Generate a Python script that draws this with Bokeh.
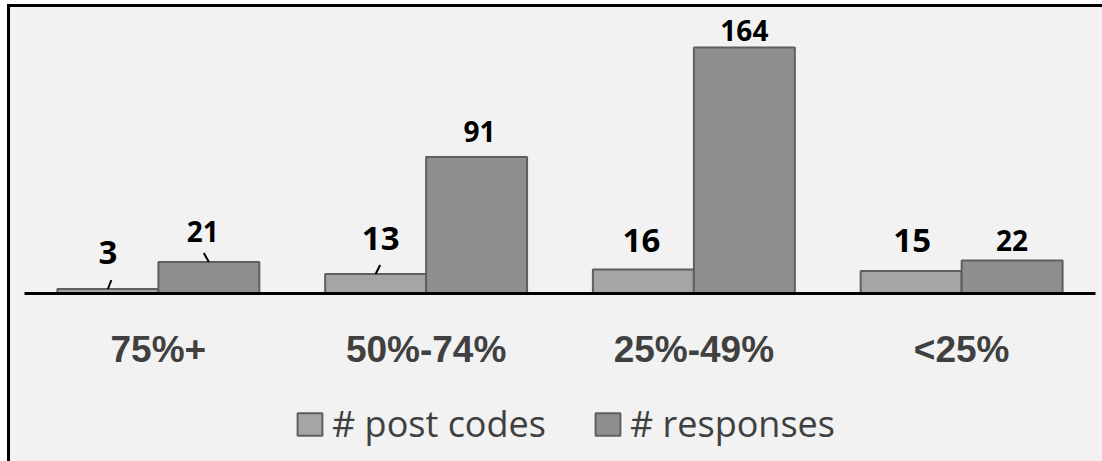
from bokeh.plotting import figure
from bokeh.models import ColumnDataSource, Range1d, FactorRange, Legend, LegendItem
from bokeh.layouts import column
from bokeh.transform import dodge
from bokeh.core.properties import value
from bokeh.embed import file_html
from bokeh.resources import INLINE

# ---- data ----
categories = ["75%+", "50%-74%", "25%-49%", "<25%"]
post_codes = [3, 13, 16, 15]
responses = [21, 91, 164, 22]
series_names = ["# post codes", "# responses"]

# ---- label placement tweaks (screen pixels), kept apart from data ----
pc_label_dx = [0, 5, -2, 1]
pc_label_lift = [37, 36, 29, 31]
rs_label_dx = [-6, 3, 0, 0]
rs_label_lift = [31, 26, 17, 20]
# leader lines (Excel-style): which labels have one, and top x shift (category units)
pc_leader_shift = [0.013, 0.017, None, None]
rs_leader_shift = [-0.019, None, None, None]

BAR_W = 0.377
OFF = 0.1886
BG = "#f2f2f2"
PC_FILL, RS_FILL, BAR_LINE = "#a5a5a5", "#8f8f8f", "#5f5f5f"
W = 1092

src = ColumnDataSource(dict(
    cat=categories, pc=post_codes, rs=responses,
    pc_txt=[str(v) for v in post_codes], rs_txt=[str(v) for v in responses],
    pc_dx=pc_label_dx, pc_dy=[-v for v in pc_label_lift],
    rs_dx=rs_label_dx, rs_dy=[-v for v in rs_label_lift],
))

p = figure(width=W, height=366,
           x_range=FactorRange(factors=categories, range_padding=0, factor_padding=0),
           y_range=Range1d(0, 190.67),
           output_backend="svg", toolbar_location=None,
           min_border_left=14, min_border_right=7, min_border_top=0,
           min_border_bottom=80)
p.background_fill_color = BG
p.border_fill_color = BG
p.outline_line_color = None
p.xgrid.visible = False
p.ygrid.visible = False
p.yaxis.visible = False

p.vbar(x=dodge("cat", -OFF, range=p.x_range), top="pc", width=BAR_W, source=src,
       fill_color=PC_FILL, line_color=BAR_LINE, line_width=2)
p.vbar(x=dodge("cat", OFF, range=p.x_range), top="rs", width=BAR_W, source=src,
       fill_color=RS_FILL, line_color=BAR_LINE, line_width=2)

p.text(x=dodge("cat", -OFF, range=p.x_range), y="pc", text="pc_txt", source=src,
       x_offset="pc_dx", y_offset="pc_dy", text_align="center", text_baseline="alphabetic",
       text_font=value("Open Sans"), text_font_style="bold", text_font_size="33px",
       text_color="black")
p.text(x=dodge("cat", OFF, range=p.x_range), y="rs", text="rs_txt", source=src,
       x_offset="rs_dx", y_offset="rs_dy", text_align="center", text_baseline="alphabetic",
       text_font=value("Open Sans"), text_font_style="bold", text_font_size="28px",
       text_color="black")

# leader lines
lx0, lx1, ly0, ly1 = [], [], [], []
for i, (v, s) in enumerate(zip(post_codes, pc_leader_shift)):
    if s is not None:
        c = i + 0.5 - OFF
        lx0.append(c); lx1.append(c + s); ly0.append(v); ly1.append(v + 6)
for i, (v, s) in enumerate(zip(responses, rs_leader_shift)):
    if s is not None:
        c = i + 0.5 + OFF
        lx0.append(c); lx1.append(c + s); ly0.append(v); ly1.append(v + 6)
p.segment(x0=lx0, y0=ly0, x1=lx1, y1=ly1, line_color="black", line_width=2)

ax = p.xaxis[0]
ax.axis_line_color = "black"
ax.axis_line_width = 3
ax.major_tick_line_color = None
ax.minor_tick_line_color = None
ax.major_tick_out = 0
ax.major_label_text_font = "Liberation Sans"
ax.major_label_text_font_style = "bold"
ax.major_label_text_font_size = "37px"
ax.major_label_text_color = "#404040"
ax.major_label_standoff = 35

# ---- legend strip (same data, hidden renderers only supply the legend swatches) ----
lg = figure(width=W, height=88,
            x_range=FactorRange(factors=categories, range_padding=0, factor_padding=0),
            y_range=Range1d(0, 190.67),
            output_backend="svg", toolbar_location=None,
            min_border_left=0, min_border_right=0, min_border_top=0, min_border_bottom=0)
lg.background_fill_color = BG
lg.border_fill_color = BG
lg.outline_line_color = None
lg.axis.visible = False
lg.grid.visible = False
k1 = lg.vbar(x=dodge("cat", -OFF, range=lg.x_range), top="pc", width=BAR_W, source=src,
             fill_color=PC_FILL, line_color=BAR_LINE, line_width=2, visible=False)
k2 = lg.vbar(x=dodge("cat", OFF, range=lg.x_range), top="rs", width=BAR_W, source=src,
             fill_color=RS_FILL, line_color=BAR_LINE, line_width=2, visible=False)
legend = Legend(items=[LegendItem(label=series_names[0], renderers=[k1]),
                       LegendItem(label=series_names[1], renderers=[k2])],
                orientation="horizontal", location=(270, 13),
                glyph_width=31, glyph_height=28, label_standoff=7, spacing=46,
                label_text_font="Open Sans", label_text_font_size="36px",
                label_text_color="#404040",
                background_fill_alpha=0, border_line_alpha=0, padding=0, margin=0)
lg.add_layout(legend, "center")

page = column(p, lg, spacing=0)
page.styles = {"margin-left": "7px", "margin-top": "4px", "background-color": BG,
               "border-top": "3px solid black", "border-left": "3px solid black"}

open("out.html", "w").write(file_html(page, INLINE))
